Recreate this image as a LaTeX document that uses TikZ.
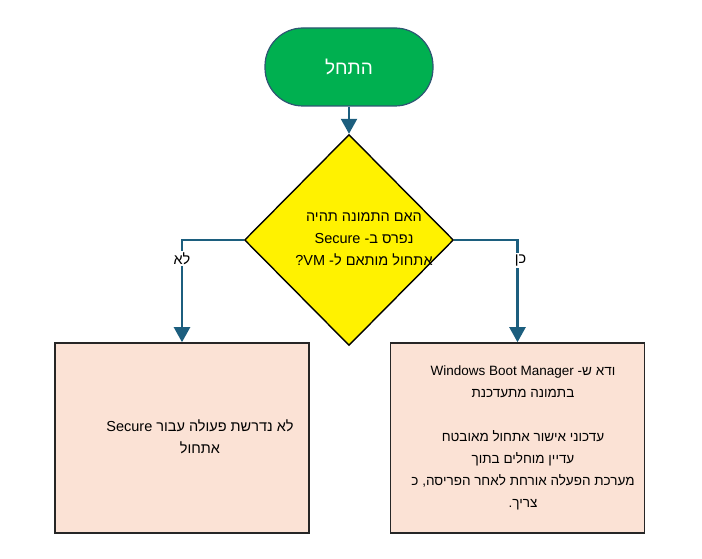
\documentclass[tikz,border=0pt]{standalone}
\usepackage{fontspec}
\setmainfont{Liberation Sans}
\newfontfamily\hebfont[Script=Hebrew]{Liberation Sans}
\TeXXeTstate=1
\usetikzlibrary{arrows.meta, positioning, shapes.geometric}

% splits trailing punctuation off a Latin word so it lands on the left
\newcommand{\rtlsep}{\kern0pt}

\definecolor{startgreen}{HTML}{00B050}
\definecolor{startedge}{HTML}{2E5673}
\definecolor{flowblue}{HTML}{1C5E7E}
\definecolor{boxpink}{HTML}{FBE2D5}
\definecolor{boxedge}{HTML}{262626}

\begin{document}
\begin{tikzpicture}[
  x=1pt, y=-1pt,
  terminal/.style={rectangle, draw=startedge, line width=1.2pt, fill=startgreen, rounded corners=38pt, minimum width=168pt, minimum height=78pt, text=white, font=\hebfont\fontsize{19}{22}\selectfont},
  decision/.style={diamond, draw=black, line width=1.4pt, fill=yellow, minimum width=209pt, minimum height=211pt, inner sep=0pt},
  block/.style={rectangle, draw=boxedge, line width=1.6pt, fill=boxpink, minimum width=254pt, minimum height=190pt},
  txt/.style={align=center, inner sep=0pt, font=\hebfont\fontsize{14.5}{22}\selectfont},
  branch/.style={fill=white, inner sep=1.5pt, font=\hebfont\fontsize{14.5}{17}\selectfont},
  arrow/.style={-{Triangle[width=16pt,length=15pt]}, line width=2.4pt, draw=flowblue}
]
\useasboundingbox (0,0) rectangle (702,559);

\node[terminal] (start) at (349,67) {\beginR התחל\endR};
\node[decision] (ask) at (349,240) {};
\node[txt] (asktext) at (364,239) {\beginR האם התמונה תהיה\endR\\
  \beginR נפרס ב- Secure\endR\\
  \beginR אתחול מותאם ל- VM\rtlsep?\endR};

\node[block] (noaction) at (182,438) {};
\node[txt] (noactiontext) at (200,437) {\beginR לא נדרשת פעולה עבור Secure\endR\\
  \beginR אתחול\endR};

\node[block] (verify) at (517.5,438) {};
\node[txt, font=\hebfont\fontsize{13.5}{22}\selectfont] (verifytext) at (523,438) {\beginR ודא ש- \beginL Windows Boot Manager\endL\endR\\
  \beginR בתמונה מתעדכנת\endR\\[22pt]
  \beginR עדכוני אישור אתחול מאובטח\endR\\
  \beginR עדיין מוחלים בתוך\endR\\
  \beginR מערכת הפעלה אורחת לאחר הפריסה, כ\endR\\
  \beginR צריך.\endR};

\draw[arrow] (start) -- (ask);
\draw[arrow] (ask.west) -| (noaction.north) node[branch, pos=0.59] {\beginR לא\endR};
\draw[arrow] (ask.east) -| (verify.north) node[branch, pos=0.6, xshift=3pt] {\beginR כן\endR};
\end{tikzpicture}
\end{document}
